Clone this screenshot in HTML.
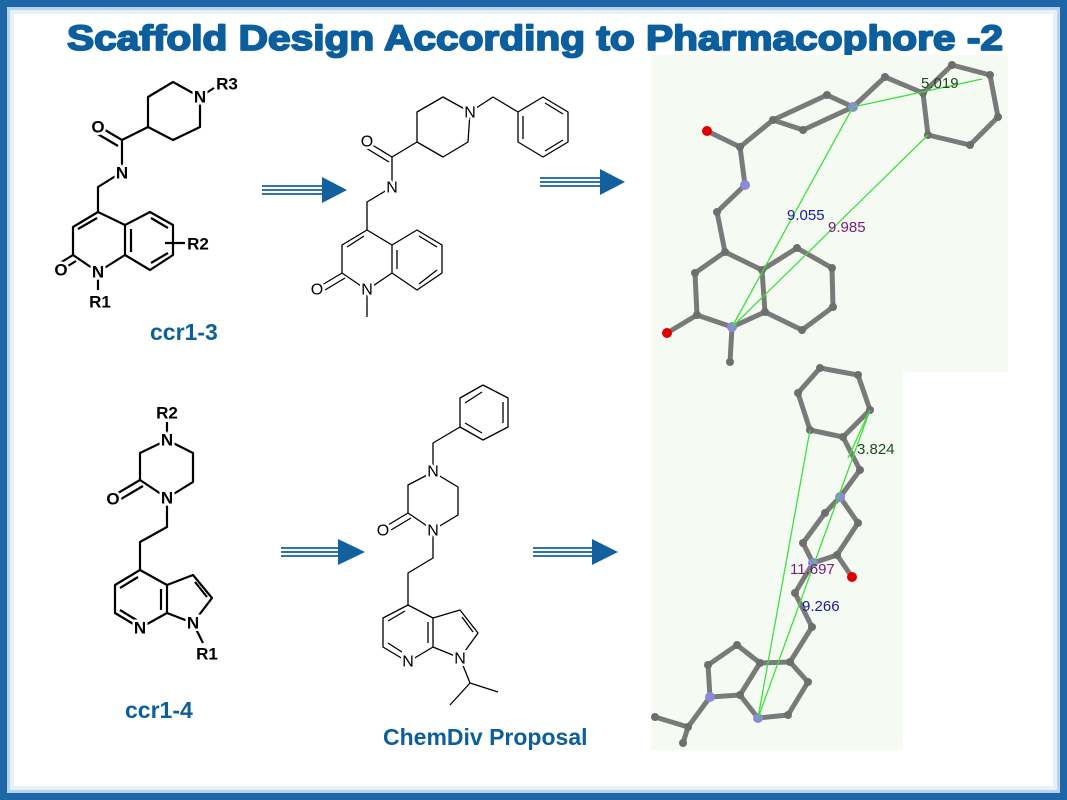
<!DOCTYPE html>
<html><head><meta charset="utf-8"><style>
html,body{margin:0;padding:0;background:#fff}
svg{display:block}
.b{stroke:#000;stroke-width:2.2;fill:none;stroke-linejoin:round}
.t{stroke:#000;stroke-width:1.3;fill:none;stroke-linejoin:round}
.lab{font-family:"Liberation Sans",sans-serif;font-size:17px;font-weight:bold;paint-order:stroke;stroke:#fff;stroke-width:5px;fill:#000;text-anchor:middle;dominant-baseline:central}
.lab2{font-family:"Liberation Sans",sans-serif;font-size:16px;paint-order:stroke;stroke:#fff;stroke-width:5px;fill:#000;text-anchor:middle;dominant-baseline:central}
.blue{font-family:"Liberation Sans",sans-serif;font-weight:bold;fill:#0d5f9c}
.m{stroke:#7a7a7a;stroke-width:5;fill:none;stroke-linecap:round;stroke-linejoin:round}
.g{stroke:#3de03d;stroke-width:1.3;fill:none}
.d{font-family:"Liberation Sans",sans-serif;font-size:15px}
</style></head><body>
<svg width="1067" height="800" viewBox="0 0 1067 800" xmlns="http://www.w3.org/2000/svg">
<rect x="0" y="0" width="1067" height="800" fill="#1d67a6"/>
<rect x="7" y="7" width="1053" height="786" fill="#b8d3ea"/>
<rect x="10" y="10" width="1047" height="780" fill="#e6f0f8"/>
<rect x="14" y="14" width="1039" height="772" fill="#fff"/>

<text x="535" y="50" text-anchor="middle" class="blue" font-size="35" textLength="936" lengthAdjust="spacingAndGlyphs" style="font-family:'Liberation Sans',sans-serif;font-weight:900" fill="#0a5d9e" stroke="#0a5d9e" stroke-width="1.8" stroke-linejoin="round">Scaffold Design According to Pharmacophore -2</text>

<!-- 3D panels -->
<rect x="651" y="55" width="357" height="317" fill="#f5fbf3"/>
<rect x="651" y="372" width="252" height="378" fill="#f5fbf3"/>

<!-- Structure ccr1-3 -->
<g class="b">
<polyline points="200,97 173,82 148,97 148,127 173,140 200,127 200,97"/>
<line x1="200" y1="97" x2="214" y2="88"/>
<polyline points="148,127 122,140 122,172 98,187 98,212"/>
<line x1="122" y1="140" x2="100" y2="127"/><line x1="118" y1="146" x2="96" y2="133"/>
<polyline points="98,212 73,227 73,255 98,272 125,255 125,225 98,212"/>
<line x1="97" y1="218" x2="78" y2="229"/>
<line x1="73" y1="255" x2="60" y2="263"/><line x1="76" y1="261" x2="63" y2="269"/>
<polyline points="125,225 150,212 173,225 173,255 150,270 125,255"/>
<line x1="131" y1="229" x2="131" y2="252"/><line x1="151" y1="218" x2="168" y2="228"/><line x1="168" y1="253" x2="151" y2="263"/>
<line x1="98" y1="272" x2="98" y2="290"/>
<line x1="165" y1="243" x2="185" y2="243"/>
</g>
<text class="lab" x="200" y="97">N</text>
<text class="lab" x="227" y="84">R3</text>
<text class="lab" x="98" y="127">O</text>
<text class="lab" x="122" y="173">N</text>
<text class="lab" x="98" y="272">N</text>
<text class="lab" x="61" y="270">O</text>
<text class="lab" x="100" y="302">R1</text>
<text class="lab" x="198" y="244">R2</text>
<text class="blue" x="150" y="340" font-size="23">ccr1-3</text>

<!-- Structure 2 -->
<g class="t">
<polyline points="470,112 443,97 417,112 417,142 443,157 468,142 470,112"/>
<polyline points="417,142 392,157 392,187 367,202 367,230"/>
<line x1="392" y1="157" x2="369" y2="143"/><line x1="389" y1="162" x2="366" y2="148"/>
<polyline points="367,230 342,245 342,273 367,290 392,273 392,245 367,230"/>
<line x1="364" y1="236" x2="347" y2="247"/>
<line x1="342" y1="273" x2="322" y2="285"/><line x1="345" y1="278" x2="325" y2="290"/>
<line x1="367" y1="290" x2="367" y2="317"/>
<polyline points="392,245 417,230 442,245 442,273 417,290 392,273"/>
<line x1="397" y1="250" x2="397" y2="269"/><line x1="419" y1="236" x2="437" y2="247"/><line x1="437" y1="270" x2="419" y2="284"/>
<polyline points="470,112 493,97 518,112"/>
<polyline points="518,112 543,97 568,112 568,142 543,157 518,142 518,112"/>
<line x1="523" y1="116" x2="523" y2="139"/><line x1="545" y1="103" x2="563" y2="114"/><line x1="563" y1="140" x2="545" y2="151"/>
</g>
<text class="lab2" x="470" y="113">N</text>
<text class="lab2" x="367" y="142">O</text>
<text class="lab2" x="392" y="188">N</text>
<text class="lab2" x="367" y="290">N</text>
<text class="lab2" x="317" y="290">O</text>

<!-- Structure ccr1-4 -->
<g class="b">
<line x1="167" y1="440" x2="167" y2="422"/>
<polyline points="167,440 140,453 140,480 167,498 193,482 193,453 167,440"/>
<line x1="140" y1="480" x2="118" y2="493"/><line x1="143" y1="486" x2="121" y2="499"/>
<polyline points="167,498 167,527 140,542 140,570"/>
<polyline points="140,570 115,585 115,613 140,628 167,613 167,585 140,570"/>
<line x1="138" y1="577" x2="120" y2="588"/><line x1="120" y1="610" x2="138" y2="621"/><line x1="161" y1="589" x2="161" y2="610"/>
<polyline points="167,585 193,575 212,598 193,623 167,613"/>
<line x1="195" y1="582" x2="207" y2="597"/>
<line x1="193" y1="623" x2="203" y2="643"/>
</g>
<text class="lab" x="167" y="413">R2</text>
<text class="lab" x="167" y="440">N</text>
<text class="lab" x="113" y="499">O</text>
<text class="lab" x="167" y="498">N</text>
<text class="lab" x="140" y="628">N</text>
<text class="lab" x="193" y="623">N</text>
<text class="lab" x="207" y="654">R1</text>
<text class="blue" x="125" y="718" font-size="23">ccr1-4</text>

<!-- Structure 4 -->
<g class="t">
<polyline points="483,385 508,398 508,427 483,440 460,427 460,398 483,385"/>
<line x1="503" y1="402" x2="503" y2="423"/><line x1="465" y1="403" x2="482" y2="392"/><line x1="465" y1="423" x2="482" y2="433"/>
<polyline points="460,427 433,443 433,472"/>
<polyline points="433,472 408,485 408,513 433,530 458,515 458,487 433,472"/>
<line x1="408" y1="513" x2="388" y2="525"/><line x1="411" y1="518" x2="391" y2="530"/>
<polyline points="433,530 433,558 408,573 408,605"/>
<polyline points="408,605 383,618 383,647 408,662 433,647 433,618 408,605"/>
<line x1="405" y1="611" x2="388" y2="621"/><line x1="388" y1="643" x2="405" y2="654"/><line x1="428" y1="622" x2="428" y2="643"/>
<polyline points="433,618 460,610 478,633 460,658 433,647"/>
<line x1="462" y1="617" x2="473" y2="632"/>
<polyline points="460,658 470,683 498,692"/><line x1="470" y1="683" x2="450" y2="705"/>
</g>
<text class="lab2" x="433" y="472">N</text>
<text class="lab2" x="383" y="531">O</text>
<text class="lab2" x="433" y="531">N</text>
<text class="lab2" x="408" y="662">N</text>
<text class="lab2" x="460" y="659">N</text>
<text class="blue" x="383" y="745" font-size="23">ChemDiv Proposal</text>

<!-- Arrows -->
<g fill="#12609e" stroke="#12609e">
<g stroke-width="1.8"><line x1="262" y1="186" x2="324" y2="186"/><line x1="262" y1="190" x2="324" y2="190"/><line x1="262" y1="194" x2="324" y2="194"/></g>
<polygon points="322,177 347,190 322,203" stroke="none"/>
<g stroke-width="1.8"><line x1="540" y1="178" x2="602" y2="178"/><line x1="540" y1="182" x2="602" y2="182"/><line x1="540" y1="186" x2="602" y2="186"/></g>
<polygon points="600,169 625,182 600,195" stroke="none"/>
<g stroke-width="1.8"><line x1="281" y1="548" x2="340" y2="548"/><line x1="281" y1="552" x2="340" y2="552"/><line x1="281" y1="556" x2="340" y2="556"/></g>
<polygon points="338,539 365,552 338,565" stroke="none"/>
<g stroke-width="1.8"><line x1="533" y1="548" x2="594" y2="548"/><line x1="533" y1="552" x2="594" y2="552"/><line x1="533" y1="556" x2="594" y2="556"/></g>
<polygon points="592,539 618,552 592,565" stroke="none"/>
</g>

<!-- 3D top -->
<g class="m">
<polyline points="707,131 740,147 773,120 803,130 853,107 885,77 923,93"/>
<polyline points="773,120 827,95 853,107"/>
<polyline points="923,93 952,65 990,75 998,117 970,145 928,135 923,93"/>
<polyline points="740,147 745,185 717,212 725,252 695,273 697,315 732,327 765,312 762,270 725,252"/>
<polyline points="697,315 667,333"/>
<polyline points="732,327 730,362"/>
<polyline points="762,270 797,248 832,268 833,307 802,330 765,312"/>
</g>
<g fill="#6e6e6e">
<circle cx="773" cy="120" r="4"/><circle cx="803" cy="130" r="4"/><circle cx="827" cy="95" r="4"/><circle cx="885" cy="77" r="4"/><circle cx="923" cy="93" r="4"/><circle cx="952" cy="65" r="4"/><circle cx="990" cy="75" r="4"/><circle cx="998" cy="117" r="4"/><circle cx="970" cy="145" r="4"/><circle cx="928" cy="135" r="4"/><circle cx="740" cy="147" r="4"/><circle cx="717" cy="212" r="4"/><circle cx="725" cy="252" r="4"/><circle cx="695" cy="273" r="4"/><circle cx="697" cy="315" r="4"/><circle cx="765" cy="312" r="4"/><circle cx="762" cy="270" r="4"/><circle cx="797" cy="248" r="4"/><circle cx="832" cy="268" r="4"/><circle cx="833" cy="307" r="4"/><circle cx="802" cy="330" r="4"/><circle cx="730" cy="362" r="4"/>
</g>
<g fill="#8a8ad8"><circle cx="853" cy="107" r="5"/><circle cx="745" cy="185" r="5"/><circle cx="732" cy="327" r="5"/></g>
<g fill="#e00000"><circle cx="707" cy="131" r="5"/><circle cx="667" cy="333" r="5"/></g>
<g class="g">
<line x1="853" y1="107" x2="982" y2="79"/><line x1="853" y1="107" x2="732" y2="327"/><line x1="928" y1="135" x2="732" y2="327"/>
</g>
<text class="d" x="921" y="88" fill="#1c4d1c">5.019</text>
<text class="d" x="787" y="220" fill="#1a1aa0">9.055</text>
<text class="d" x="828" y="232" fill="#7a1a7a">9.985</text>

<!-- 3D bottom -->
<g class="m">
<polyline points="798,393 820,368 858,375 870,410 843,437 810,430 798,393"/>
<polyline points="843,437 860,470 840,497 858,523 837,555 813,563 803,543 825,513 840,497"/>
<polyline points="837,555 852,577"/>
<polyline points="813,563 795,593 812,627 790,662 760,663 740,695 758,718 788,715 808,682 790,662"/>
<polyline points="760,663 737,645 708,665 710,697 740,695"/>
<polyline points="710,697 688,727 655,717"/><polyline points="688,727 683,743"/>
</g>
<g fill="#6e6e6e">
<circle cx="798" cy="393" r="4"/><circle cx="820" cy="368" r="4"/><circle cx="858" cy="375" r="4"/><circle cx="870" cy="410" r="4"/><circle cx="843" cy="437" r="4"/><circle cx="810" cy="430" r="4"/><circle cx="860" cy="470" r="4"/><circle cx="858" cy="523" r="4"/><circle cx="837" cy="555" r="4"/><circle cx="825" cy="513" r="4"/><circle cx="803" cy="543" r="4"/><circle cx="795" cy="593" r="4"/><circle cx="812" cy="627" r="4"/><circle cx="790" cy="662" r="4"/><circle cx="760" cy="663" r="4"/><circle cx="740" cy="695" r="4"/><circle cx="788" cy="715" r="4"/><circle cx="808" cy="682" r="4"/><circle cx="737" cy="645" r="4"/><circle cx="708" cy="665" r="4"/><circle cx="688" cy="727" r="4"/><circle cx="655" cy="717" r="4"/><circle cx="683" cy="743" r="4"/>
</g>
<g fill="#8a8ad8"><circle cx="840" cy="497" r="5"/><circle cx="813" cy="563" r="5"/><circle cx="758" cy="718" r="5"/><circle cx="710" cy="697" r="5"/></g>
<g fill="#e00000"><circle cx="852" cy="577" r="5"/></g>
<g class="g">
<line x1="810" y1="430" x2="758" y2="718"/><line x1="870" y1="410" x2="758" y2="718"/><line x1="870" y1="410" x2="848" y2="458"/>
</g>
<text class="d" x="857" y="454" fill="#1c4d1c">3.824</text>
<text class="d" x="790" y="574" fill="#7a1a7a">11.697</text>
<text class="d" x="802" y="611" fill="#1a1aa0">9.266</text>
</svg>
</body></html>
